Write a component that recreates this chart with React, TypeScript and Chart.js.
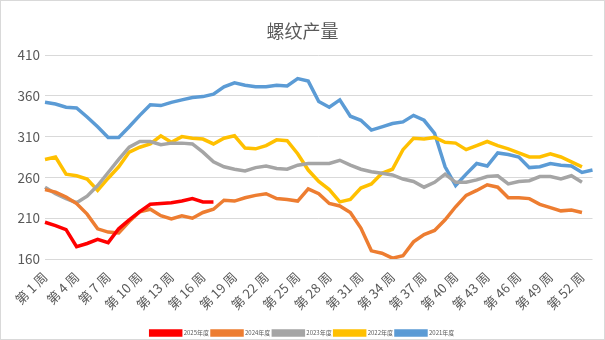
import React, { useEffect, useRef } from "react";
import { Chart, registerables } from "chart.js";

Chart.register(...registerables);

const weekLabels: string[] = Array.from({ length: 53 }, (_, i) => `第 ${i + 1} 周`);

const seriesNames = ["2025年度", "2024年度", "2023年度", "2022年度", "2021年度"];
const seriesColors = ["#FF0000", "#ED7D31", "#A5A5A5", "#FFC000", "#5B9BD5"];

const y2025 = [205, 201, 196, 175, 179, 184, 180, 197, 208, 218, 227, 228, 229, 231, 234, 230, 230];
const y2024 = [245, 242, 236, 228, 215, 197, 193, 192, 206, 218, 221, 213, 209, 213, 210, 217, 221, 232, 231, 235, 238, 240, 234, 233, 231, 246, 240, 228, 225, 217, 198, 170, 167, 161, 164, 181, 190, 195, 208, 224, 238, 244, 251, 248, 235, 235, 234, 227, 223, 219, 220, 217];
const y2023 = [248, 240, 234, 229, 237, 250, 266, 282, 297, 304, 304, 300, 302, 302, 301, 291, 279, 273, 270, 268, 272, 274, 271, 270, 275, 277, 277, 277, 281, 275, 270, 267, 265, 263, 258, 255, 248, 254, 264, 254, 254, 257, 261, 262, 252, 255, 256, 261, 261, 258, 262, 254];
const y2022 = [282, 285, 264, 262, 258, 244, 259, 273, 291, 297, 301, 311, 303, 310, 308, 307, 301, 308, 311, 296, 295, 299, 306, 305, 289, 269, 255, 245, 230, 233, 247, 252, 265, 270, 294, 308, 307, 309, 303, 302, 294, 299, 304, 299, 295, 290, 285, 285, 289, 285, 279, 273];
const y2021 = [352, 350, 346, 345, 334, 322, 309, 309, 322, 336, 349, 348, 352, 355, 358, 359, 362, 371, 376, 373, 371, 371, 373, 372, 381, 378, 353, 346, 355, 335, 330, 318, 322, 326, 328, 336, 330, 314, 273, 250, 264, 277, 274, 290, 288, 285, 272, 273, 277, 275, 274, 266, 269];

const allSeries = [y2025, y2024, y2023, y2022, y2021];

const yMin = 160;
const yMax = 410;
const yStep = 50;

const FONT = '"Noto Sans CJK SC", "Noto Sans", sans-serif';
const TEXT = "#595959";

const frame = {
  id: "frame",
  beforeDraw(chart: any) {
    const ctx = chart.ctx;
    ctx.save();
    ctx.fillStyle = "#ffffff";
    ctx.fillRect(0, 0, chart.width, chart.height);
    ctx.restore();
  },
  afterDraw(chart: any) {
    const ctx = chart.ctx;
    ctx.save();
    ctx.strokeStyle = "#d9d9d9";
    ctx.lineWidth = 1;
    ctx.strokeRect(0.5, 0.5, chart.width - 1, chart.height - 1);
    ctx.restore();
  },
};

export default function App() {
  const ref = useRef<HTMLCanvasElement | null>(null);

  useEffect(() => {
    if (!ref.current) return;
    const chart = new Chart(ref.current, {
      type: "line",
      data: {
        labels: weekLabels,
        datasets: allSeries.map((d, i) => ({
          label: seriesNames[i],
          data: d,
          borderColor: seriesColors[i],
          backgroundColor: seriesColors[i],
          borderWidth: 3.5,
          pointRadius: 0,
          tension: 0,
          fill: false,
        })),
      },
      plugins: [frame],
      options: {
        responsive: false,
        animation: false,
        devicePixelRatio: 1,
        layout: { padding: { left: 0, right: 0, top: 0, bottom: -6 } },
        plugins: {
          title: {
            display: true,
            text: "螺纹产量",
            color: TEXT,
            font: { family: FONT, size: 18, weight: "normal" },
            padding: { top: 20, bottom: 13.4 },
          },
          legend: {
            display: true,
            position: "bottom",
            labels: {
              boxWidth: 30,
              boxHeight: 4,
              padding: 3,
              color: TEXT,
              font: { family: FONT, size: 6 },
            },
          },
          tooltip: { enabled: false },
        },
        scales: {
          x: {
            offset: false,
            grid: { display: false },
            border: { display: false },
            ticks: {
              autoSkip: false,
              maxRotation: 45,
              minRotation: 45,
              color: TEXT,
              padding: 2,
              font: { family: FONT, size: 13 },
              callback: (_v: any, i: number) => (i % 3 === 0 ? weekLabels[i] : ""),
            },
            afterFit: (s: any) => {
              s.height = 68;
              s.paddingLeft = 0;
              s.paddingRight = 12.5;
            },
          },
          y: {
            min: yMin,
            max: yMax,
            grid: { color: "#d9d9d9", lineWidth: 1, drawTicks: false },
            border: { display: false },
            ticks: {
              stepSize: yStep,
              padding: 5,
              color: TEXT,
              font: { family: FONT, size: 13.5 },
            },
            afterFit: (s: any) => {
              s.width = 45;
            },
          },
        },
      } as any,
    });
    return () => chart.destroy();
  }, []);

  return (
    <div style={{ position: "fixed", left: 0, top: 0, width: 605, height: 340 }}>
      <canvas ref={ref} width={605} height={340} style={{ display: "block", width: 605, height: 340 }} />
    </div>
  );
}
